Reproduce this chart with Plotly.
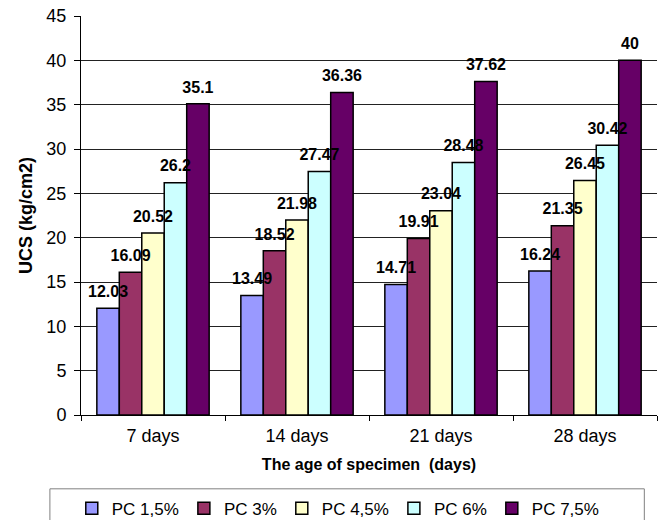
import plotly.graph_objects as go

ages = ["7 days", "14 days", "21 days", "28 days"]
series_names = ["PC 1,5%", "PC 3%", "PC 4,5%", "PC 6%", "PC 7,5%"]
pc_1_5 = [12.03, 13.49, 14.71, 16.24]
pc_3 = [16.09, 18.52, 19.91, 21.35]
pc_4_5 = [20.52, 21.98, 23.04, 26.45]
pc_6 = [26.2, 27.47, 28.48, 30.42]
pc_7_5 = [35.1, 36.36, 37.62, 40]
colors = ["#9999FF", "#993366", "#FFFFCC", "#CCFFFF", "#660066"]

FONT = "Liberation Sans, Arial, sans-serif"
series = list(zip(series_names, [pc_1_5, pc_3, pc_4_5, pc_6, pc_7_5], colors))

fig = go.Figure()
for i, (name, vals, col) in enumerate(series):
    fig.add_trace(go.Bar(
        x=ages, y=vals, name=name, offsetgroup=str(i),
        marker=dict(color=col, line=dict(color="black", width=1.5)),
    ))

# Value labels as grouped text traces so they sit above every bar
for i, (name, vals, col) in enumerate(series):
    fig.add_trace(go.Scatter(
        x=ages, y=vals, mode="markers+text", offsetgroup=str(i),
        marker=dict(size=10, color="rgba(0,0,0,0)"),
        text=[f"{v:g}" for v in vals],
        textposition="top center",
        textfont=dict(family=FONT, size=16, color="black", weight="bold"),
        showlegend=False, hoverinfo="skip", cliponaxis=False,
    ))

fig.update_layout(
    width=667, height=520,
    margin=dict(l=81, r=10, t=16, b=105, autoexpand=False),
    paper_bgcolor="white", plot_bgcolor="white",
    barmode="group", bargap=0.22, bargroupgap=0,
    scattermode="group", scattergap=0.22,
    font=dict(family=FONT, color="black"),
    xaxis=dict(
        showline=True, linecolor="black", linewidth=1,
        ticks="outside", tickson="boundaries", ticklen=5, tickcolor="black",
        tickfont=dict(size=18), ticklabelstandoff=4,
        title=dict(text="<b>The age of specimen  (days)</b>", font=dict(size=16), standoff=14),
    ),
    yaxis=dict(
        range=[0, 45], dtick=5,
        showline=True, linecolor="black", linewidth=1,
        ticks="outside", ticklen=6, tickcolor="black",
        showgrid=True, gridcolor="#222222", gridwidth=1,
        tickfont=dict(size=18), ticklabelstandoff=4,
        title=dict(text="<b>UCS (kg/cm2)</b>", font=dict(size=18), standoff=9),
        zeroline=False,
    ),
    legend=dict(
        orientation="h", x=-0.016, xanchor="left", y=-0.19, yanchor="top",
        font=dict(size=17), itemwidth=30,
        bgcolor="rgba(0,0,0,0)",
    ),
    showlegend=True,
)

# Frame around the legend row
fig.add_shape(type="rect", xref="paper", yref="paper",
              x0=-0.054, x1=0.978, y0=-0.28, y1=-0.185,
              line=dict(color="#808080", width=1), fillcolor="rgba(0,0,0,0)")

fig.write_html("out.html")
